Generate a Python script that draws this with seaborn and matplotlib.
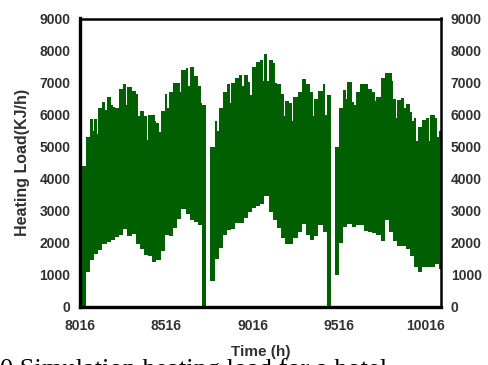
import matplotlib
matplotlib.use("Agg")
import matplotlib.pyplot as plt
import seaborn as sns

# daily values (KJ/h), one per day starting at hour 8026
start_hour = 8026
upper = [4400, 5300, 5850, 5850, 6200, 6400, 6550, 6300, 6200, 6800,
         6950, 6850, 6750, 6650, 6100, 5950, 6000, 6000, 5750, 6100,
         6650, 6700, 7000, 7000, 7380, 7450, 7500, 7200, 6900, 6300,
         0, 5000, 5800, 6200, 6700, 6950, 7000, 7150, 7230, 7230,
         7020, 7500, 7650, 7700, 7880, 7700, 7600, 6950, 6650, 6430,
         6350, 6550, 6700, 7100, 6950, 6700, 6500, 6750, 6950, 6600,
         0, 5000, 6200, 6780, 7030, 6400, 6700, 6950, 6950, 6800,
         6700, 6540, 7150, 7300, 7310, 6500, 6460, 6530, 6330, 6090,
         5900, 5600, 5840, 5900, 5990, 5900, 5500]
lower = [0, 1100, 1460, 1650, 1770, 1950, 2030, 2100, 2170, 2260,
         2420, 2200, 2290, 1950, 1800, 1620, 1580, 1400, 1480, 1750,
         2250, 2200, 2450, 2750, 3050, 2900, 2700, 2650, 2550, 0,
         0, 800, 1500, 1850, 2250, 2400, 2420, 2620, 2620, 2780,
         2950, 3100, 3150, 3200, 3450, 2950, 2700, 2450, 2150, 1950,
         1950, 2150, 2350, 2600, 2250, 2080, 2200, 2550, 2350, 0,
         0, 1000, 2000, 2500, 2600, 2500, 2550, 2550, 2380, 2350,
         2300, 2250, 2050, 2700, 2350, 2050, 1900, 1900, 1800, 1600,
         1250, 1100, 1250, 1250, 1250, 1350, 1200]
# short evening dips in the daily peak
notch_days = [2, 3, 5, 7, 10, 13, 15, 17, 18, 20, 23, 25, 28, 32, 35, 38, 40,
              43, 44, 46, 48, 50, 55, 58, 63, 65, 70, 74, 75, 77, 79, 80, 83, 85]
notch_vals = [5500, 5400, 6150, 6250, 6300, 5950, 5200, 5800, 5450, 6200,
              6700, 6900, 6350, 5500, 6350, 6900, 6600, 7050, 7050, 7000,
              5950, 5800, 5950, 6000, 6500, 6300, 6430, 7050, 5900, 6200,
              5800, 5170, 5170, 5300]

x_ticks = [8016, 8516, 9016, 9516, 10016]
y_ticks = [0, 1000, 2000, 3000, 4000, 5000, 6000, 7000, 8000, 9000]

sns.set_theme(style="white")
plt.rcParams['font.family'] = ['Liberation Sans', 'DejaVu Sans']

# build step series
notch = dict(zip(notch_days, notch_vals))
t, hi, lo = [], [], []
for i, (u, l) in enumerate(zip(upper, lower)):
    t0 = start_hour + 24 * i
    t.append(t0)
    hi.append(u)
    lo.append(l)
    if i in notch:
        t.append(t0 + 15)
        hi.append(notch[i])
        lo.append(l)
t.append(start_hour + 24 * len(upper))
hi.append(upper[-1])
lo.append(lower[-1])

fig = plt.figure(figsize=(4.88, 3.65), dpi=100)
ax = fig.add_axes([80 / 488, 1 - 307 / 365, 361 / 488, 288.5 / 365])
ax.fill_between(t, lo, hi, step='post', color='#005f00', linewidth=0)

ax.set_xlim(8016, 10103)
ax.set_ylim(0, 9000)
ax.set_xticks(x_ticks)
ax.set_yticks(y_ticks)
ax.tick_params(length=0, labelsize=10, colors='#303030')
ax.tick_params(axis='y', pad=7)
ax.tick_params(axis='x', pad=9)
for lab in ax.get_xticklabels() + ax.get_yticklabels():
    lab.set_fontweight('bold')

for side in ['left', 'bottom']:
    ax.spines[side].set_linewidth(2.4)
for side in ['top', 'right']:
    ax.spines[side].set_linewidth(1.8)
for sp in ax.spines.values():
    sp.set_color('black')

ax2 = ax.twinx()
ax2.set_ylim(0, 9000)
ax2.set_yticks(y_ticks)
ax2.tick_params(length=0, labelsize=10, colors='#303030', pad=7)
for lab in ax2.get_yticklabels():
    lab.set_fontweight('bold')
for sp in ax2.spines.values():
    sp.set_visible(False)

ax.set_ylabel('Heating Load(KJ/h)', fontsize=11.5, fontweight='bold',
              color='#303030', va='center')
ax.yaxis.set_label_coords(-0.158, 0.5)
ax.set_xlabel('Time (h)', fontsize=11, fontweight='bold', color='#303030')
ax.xaxis.set_label_coords(0.5, -0.13)

fig.text(0.0, 0.018, '0 Simulation heating load for a hotel', fontsize=19,
         family='Liberation Serif', color='black', va='top', ha='left')

fig.savefig('out.png', dpi=100)
